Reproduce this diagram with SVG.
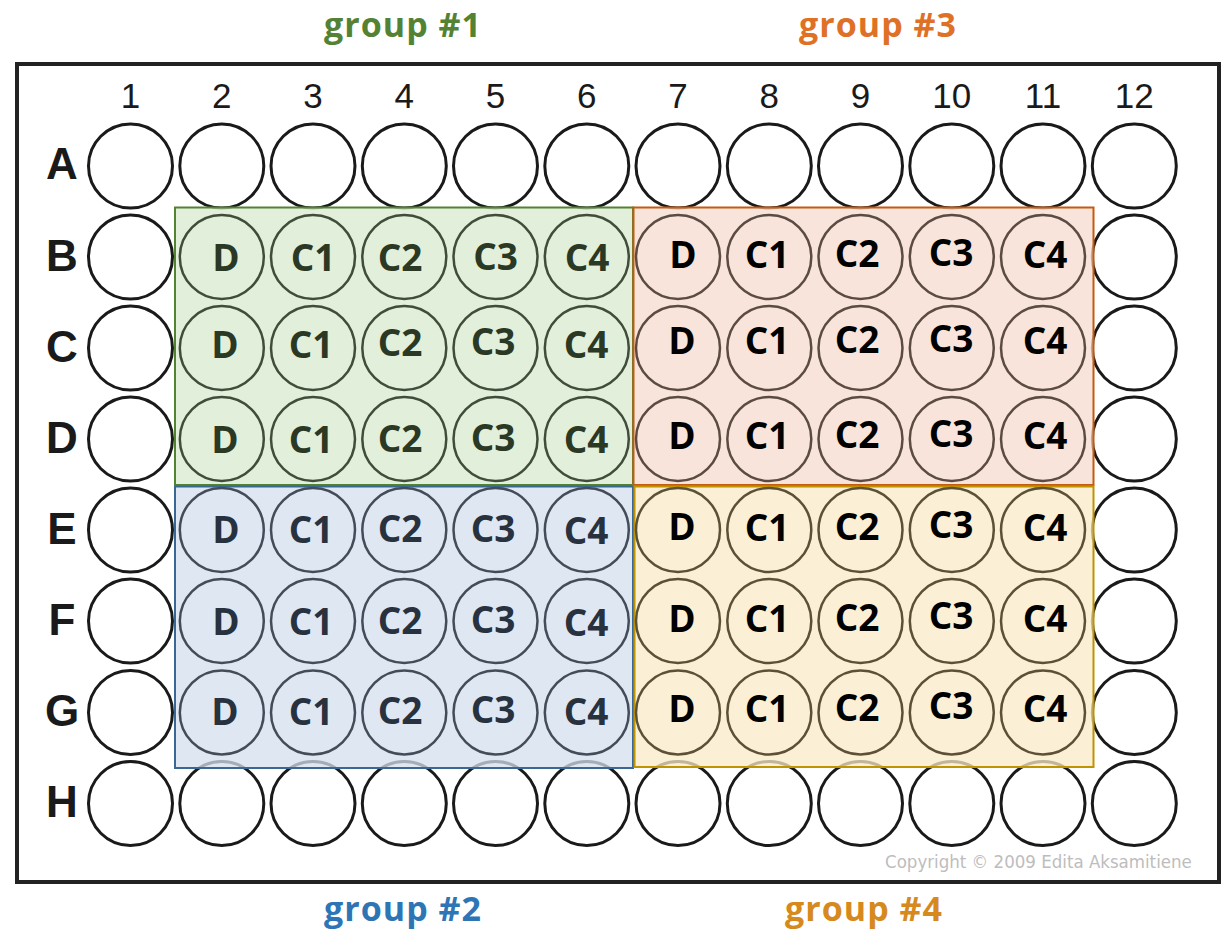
<svg xmlns="http://www.w3.org/2000/svg" width="1227" height="932" viewBox="0 0 1227 932">
<style>
.w{fill:#fff;stroke:#1a1a1a;stroke-width:3}
.num{font-family:"Liberation Sans",Arial,sans-serif;font-size:35px;fill:#1a1a1a;text-anchor:middle}
.row{font-family:"Liberation Sans",Arial,sans-serif;font-size:44px;font-weight:700;fill:#1a1a1a;text-anchor:middle}
.title{font-family:"Open Sans",sans-serif;font-size:34px;font-weight:700;letter-spacing:1px;text-anchor:middle}
.lb{font-family:"Open Sans",sans-serif;font-size:37px;font-weight:700;text-anchor:middle}
.c1{fill:none;stroke:#414d3b;stroke-width:2.5}
.c2{fill:none;stroke:#444c59;stroke-width:2.5}
.c3{fill:none;stroke:#5b4b42;stroke-width:2.5}
.c4{fill:none;stroke:#5a5138;stroke-width:2.5}
.t1{fill:#2a3824}
.t2{fill:#28313e}
.t3{fill:#000}
.t4{fill:#000}
.copy{font-family:"DejaVu Sans Condensed","DejaVu Sans",sans-serif;font-size:18.5px;fill:#bdbdbd}
</style>
<rect width="1227" height="932" fill="#fff"/>
<g id="plate">
<rect x="17" y="64" width="1202" height="818" fill="#fff" stroke="#222" stroke-width="4"/>
<text class="num" x="130.5" y="108">1</text>
<text class="num" x="221.8" y="108">2</text>
<text class="num" x="313" y="108">3</text>
<text class="num" x="404.3" y="108">4</text>
<text class="num" x="495.5" y="108">5</text>
<text class="num" x="586.8" y="108">6</text>
<text class="num" x="678" y="108">7</text>
<text class="num" x="769.3" y="108">8</text>
<text class="num" x="860.5" y="108">9</text>
<text class="num" x="951.8" y="108">10</text>
<text class="num" x="1043" y="108">11</text>
<text class="num" x="1134.3" y="108">12</text>
<text class="row" x="62" y="179">A</text>
<text class="row" x="62" y="271">B</text>
<text class="row" x="62" y="362">C</text>
<text class="row" x="62" y="453">D</text>
<text class="row" x="62" y="544">E</text>
<text class="row" x="62" y="635">F</text>
<text class="row" x="62" y="726">G</text>
<text class="row" x="62" y="817">H</text>
<text class="copy" x="885" y="868">Copyright © 2009 Edita Aksamitiene</text>
</g>
<g id="outer-wells">
<g id="well-A1"><circle class="w" cx="130.5" cy="166" r="42"/></g>
<g id="well-A2"><circle class="w" cx="221.8" cy="166" r="42"/></g>
<g id="well-A3"><circle class="w" cx="313" cy="166" r="42"/></g>
<g id="well-A4"><circle class="w" cx="404.3" cy="166" r="42"/></g>
<g id="well-A5"><circle class="w" cx="495.5" cy="166" r="42"/></g>
<g id="well-A6"><circle class="w" cx="586.8" cy="166" r="42"/></g>
<g id="well-A7"><circle class="w" cx="678" cy="166" r="42"/></g>
<g id="well-A8"><circle class="w" cx="769.3" cy="166" r="42"/></g>
<g id="well-A9"><circle class="w" cx="860.5" cy="166" r="42"/></g>
<g id="well-A10"><circle class="w" cx="951.8" cy="166" r="42"/></g>
<g id="well-A11"><circle class="w" cx="1043" cy="166" r="42"/></g>
<g id="well-A12"><circle class="w" cx="1134.3" cy="166" r="42"/></g>
<g id="well-B1"><circle class="w" cx="130.5" cy="257" r="42"/></g>
<g id="well-C1"><circle class="w" cx="130.5" cy="348" r="42"/></g>
<g id="well-D1"><circle class="w" cx="130.5" cy="439" r="42"/></g>
<g id="well-E1"><circle class="w" cx="130.5" cy="530" r="42"/></g>
<g id="well-F1"><circle class="w" cx="130.5" cy="621" r="42"/></g>
<g id="well-G1"><circle class="w" cx="130.5" cy="712.5" r="42"/></g>
<g id="well-B12"><circle class="w" cx="1134.3" cy="257" r="42"/></g>
<g id="well-C12"><circle class="w" cx="1134.3" cy="348" r="42"/></g>
<g id="well-D12"><circle class="w" cx="1134.3" cy="439" r="42"/></g>
<g id="well-E12"><circle class="w" cx="1134.3" cy="530" r="42"/></g>
<g id="well-F12"><circle class="w" cx="1134.3" cy="621" r="42"/></g>
<g id="well-G12"><circle class="w" cx="1134.3" cy="712.5" r="42"/></g>
<g id="well-H1"><circle class="w" cx="130.5" cy="803.5" r="42"/></g>
<g id="well-H2"><circle class="w" cx="221.8" cy="803.5" r="42"/></g>
<g id="well-H3"><circle class="w" cx="313" cy="803.5" r="42"/></g>
<g id="well-H4"><circle class="w" cx="404.3" cy="803.5" r="42"/></g>
<g id="well-H5"><circle class="w" cx="495.5" cy="803.5" r="42"/></g>
<g id="well-H6"><circle class="w" cx="586.8" cy="803.5" r="42"/></g>
<g id="well-H7"><circle class="w" cx="678" cy="803.5" r="42"/></g>
<g id="well-H8"><circle class="w" cx="769.3" cy="803.5" r="42"/></g>
<g id="well-H9"><circle class="w" cx="860.5" cy="803.5" r="42"/></g>
<g id="well-H10"><circle class="w" cx="951.8" cy="803.5" r="42"/></g>
<g id="well-H11"><circle class="w" cx="1043" cy="803.5" r="42"/></g>
<g id="well-H12"><circle class="w" cx="1134.3" cy="803.5" r="42"/></g>
</g>
<g id="group-1">
<rect x="175" y="207.5" width="458" height="277.5" fill="#d8e9ce" fill-opacity="0.75" stroke="#548235" stroke-width="2"/>
<text class="title" x="403" y="37" fill="#548235">group #1</text>
<circle class="c1" cx="221.8" cy="257" r="42"/><text class="lb t1" x="226" y="271">D</text>
<circle class="c1" cx="313" cy="257" r="42"/><text class="lb t1" x="313" y="271">C1</text>
<circle class="c1" cx="404.3" cy="257" r="42"/><text class="lb t1" x="400" y="271">C2</text>
<circle class="c1" cx="495.5" cy="257" r="42"/><text class="lb t1" x="495.5" y="270">C3</text>
<circle class="c1" cx="586.8" cy="257" r="42"/><text class="lb t1" x="587" y="271">C4</text>
<circle class="c1" cx="221.8" cy="348" r="42"/><text class="lb t1" x="225" y="358">D</text>
<circle class="c1" cx="313" cy="348" r="42"/><text class="lb t1" x="311" y="358">C1</text>
<circle class="c1" cx="404.3" cy="348" r="42"/><text class="lb t1" x="400" y="356">C2</text>
<circle class="c1" cx="495.5" cy="348" r="42"/><text class="lb t1" x="493" y="355">C3</text>
<circle class="c1" cx="586.8" cy="348" r="42"/><text class="lb t1" x="586" y="358">C4</text>
<circle class="c1" cx="221.8" cy="439" r="42"/><text class="lb t1" x="225" y="453">D</text>
<circle class="c1" cx="313" cy="439" r="42"/><text class="lb t1" x="311" y="453">C1</text>
<circle class="c1" cx="404.3" cy="439" r="42"/><text class="lb t1" x="400" y="452">C2</text>
<circle class="c1" cx="495.5" cy="439" r="42"/><text class="lb t1" x="493" y="451">C3</text>
<circle class="c1" cx="586.8" cy="439" r="42"/><text class="lb t1" x="586" y="453">C4</text>
</g>
<g id="group-2">
<rect x="175" y="486.5" width="458" height="281.5" fill="#d4dfef" fill-opacity="0.75" stroke="#3a6894" stroke-width="2"/>
<text class="title" x="403" y="921" fill="#2e75b6">group #2</text>
<circle class="c2" cx="221.8" cy="530" r="42"/><text class="lb t2" x="226" y="543">D</text>
<circle class="c2" cx="313" cy="530" r="42"/><text class="lb t2" x="311" y="543">C1</text>
<circle class="c2" cx="404.3" cy="530" r="42"/><text class="lb t2" x="400" y="542">C2</text>
<circle class="c2" cx="495.5" cy="530" r="42"/><text class="lb t2" x="493" y="542">C3</text>
<circle class="c2" cx="586.8" cy="530" r="42"/><text class="lb t2" x="586" y="544">C4</text>
<circle class="c2" cx="221.8" cy="621" r="42"/><text class="lb t2" x="226" y="635">D</text>
<circle class="c2" cx="313" cy="621" r="42"/><text class="lb t2" x="311" y="635">C1</text>
<circle class="c2" cx="404.3" cy="621" r="42"/><text class="lb t2" x="400" y="634">C2</text>
<circle class="c2" cx="495.5" cy="621" r="42"/><text class="lb t2" x="493" y="633">C3</text>
<circle class="c2" cx="586.8" cy="621" r="42"/><text class="lb t2" x="586" y="636">C4</text>
<circle class="c2" cx="221.8" cy="712.5" r="42"/><text class="lb t2" x="225" y="725">D</text>
<circle class="c2" cx="313" cy="712.5" r="42"/><text class="lb t2" x="311" y="725">C1</text>
<circle class="c2" cx="404.3" cy="712.5" r="42"/><text class="lb t2" x="400" y="724">C2</text>
<circle class="c2" cx="495.5" cy="712.5" r="42"/><text class="lb t2" x="493" y="723">C3</text>
<circle class="c2" cx="586.8" cy="712.5" r="42"/><text class="lb t2" x="586" y="725">C4</text>
</g>
<g id="group-3">
<rect x="633.5" y="207.5" width="460" height="277.5" fill="#f6dbce" fill-opacity="0.75" stroke="#c55a11" stroke-width="2"/>
<text class="title" x="878" y="37" fill="#df7126">group #3</text>
<circle class="c3" cx="678" cy="257" r="42"/><text class="lb t3" x="683" y="268">D</text>
<circle class="c3" cx="769.3" cy="257" r="42"/><text class="lb t3" x="767" y="268">C1</text>
<circle class="c3" cx="860.5" cy="257" r="42"/><text class="lb t3" x="857" y="267">C2</text>
<circle class="c3" cx="951.8" cy="257" r="42"/><text class="lb t3" x="951" y="266">C3</text>
<circle class="c3" cx="1043" cy="257" r="42"/><text class="lb t3" x="1045" y="268">C4</text>
<circle class="c3" cx="678" cy="348" r="42"/><text class="lb t3" x="682" y="354">D</text>
<circle class="c3" cx="769.3" cy="348" r="42"/><text class="lb t3" x="767" y="354">C1</text>
<circle class="c3" cx="860.5" cy="348" r="42"/><text class="lb t3" x="857" y="353">C2</text>
<circle class="c3" cx="951.8" cy="348" r="42"/><text class="lb t3" x="951" y="352">C3</text>
<circle class="c3" cx="1043" cy="348" r="42"/><text class="lb t3" x="1045" y="354">C4</text>
<circle class="c3" cx="678" cy="439" r="42"/><text class="lb t3" x="682" y="449">D</text>
<circle class="c3" cx="769.3" cy="439" r="42"/><text class="lb t3" x="767" y="449">C1</text>
<circle class="c3" cx="860.5" cy="439" r="42"/><text class="lb t3" x="857" y="448">C2</text>
<circle class="c3" cx="951.8" cy="439" r="42"/><text class="lb t3" x="951" y="447">C3</text>
<circle class="c3" cx="1043" cy="439" r="42"/><text class="lb t3" x="1045" y="449">C4</text>
</g>
<g id="group-4">
<rect x="634.5" y="486.5" width="459" height="280.5" fill="#fae9c7" fill-opacity="0.75" stroke="#c09300" stroke-width="2"/>
<text class="title" x="864" y="921" fill="#d6891c">group #4</text>
<circle class="c4" cx="678" cy="530" r="42"/><text class="lb t4" x="682" y="540">D</text>
<circle class="c4" cx="769.3" cy="530" r="42"/><text class="lb t4" x="767" y="541">C1</text>
<circle class="c4" cx="860.5" cy="530" r="42"/><text class="lb t4" x="857" y="540">C2</text>
<circle class="c4" cx="951.8" cy="530" r="42"/><text class="lb t4" x="951" y="538">C3</text>
<circle class="c4" cx="1043" cy="530" r="42"/><text class="lb t4" x="1045" y="541">C4</text>
<circle class="c4" cx="678" cy="621" r="42"/><text class="lb t4" x="682" y="632">D</text>
<circle class="c4" cx="769.3" cy="621" r="42"/><text class="lb t4" x="767" y="632">C1</text>
<circle class="c4" cx="860.5" cy="621" r="42"/><text class="lb t4" x="857" y="631">C2</text>
<circle class="c4" cx="951.8" cy="621" r="42"/><text class="lb t4" x="951" y="629">C3</text>
<circle class="c4" cx="1043" cy="621" r="42"/><text class="lb t4" x="1045" y="632">C4</text>
<circle class="c4" cx="678" cy="712.5" r="42"/><text class="lb t4" x="682" y="722">D</text>
<circle class="c4" cx="769.3" cy="712.5" r="42"/><text class="lb t4" x="767" y="722">C1</text>
<circle class="c4" cx="860.5" cy="712.5" r="42"/><text class="lb t4" x="857" y="721">C2</text>
<circle class="c4" cx="951.8" cy="712.5" r="42"/><text class="lb t4" x="951" y="719">C3</text>
<circle class="c4" cx="1043" cy="712.5" r="42"/><text class="lb t4" x="1045" y="722">C4</text>
</g>
<g id="connectors"/>
</svg>
